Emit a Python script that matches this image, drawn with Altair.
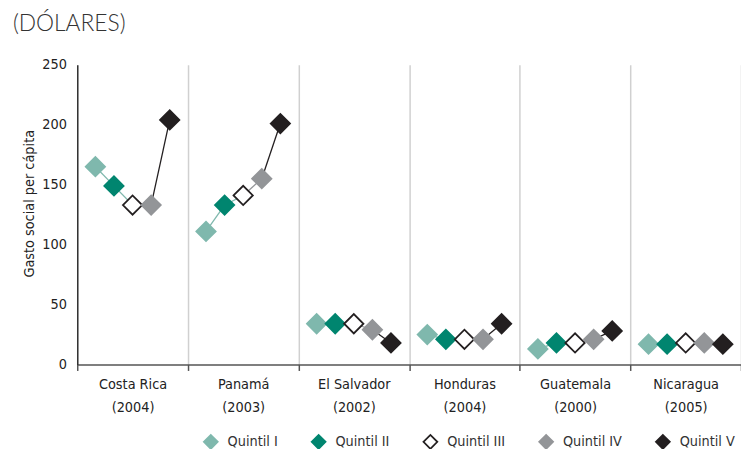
import altair as alt
import pandas as pd

FONT = "DejaVu Sans Condensed, sans-serif"

countries = ["Costa Rica", "Panamá", "El Salvador", "Honduras", "Guatemala", "Nicaragua"]
years = ["2004", "2003", "2002", "2004", "2000", "2005"]
quintiles = ["Quintil I", "Quintil II", "Quintil III", "Quintil IV", "Quintil V"]

q1 = [165, 111, 34, 25, 13, 17]
q2 = [149, 133, 34, 21, 18, 17]
q3 = [133, 141, 34, 21, 18, 18]
q4 = [133, 155, 29, 21, 21, 18]
q5 = [204, 201, 18, 34, 28, 17]
values = [q1, q2, q3, q4, q5]

fills = ["#7fb8ad", "#00856f", "#ffffff", "#939598", "#231f20"]
strokes = ["#7fb8ad", "#00856f", "#231f20", "#939598", "#231f20"]
seg_colors = ["#7fb8ad", "#7fb8ad", "#939598", "#231f20"]
offsets = [-0.336, -0.168, 0.0, 0.168, 0.336]

labels = [f"{c}|({y})" for c, y in zip(countries, years)]

pts = []
segs = []
for ci, c in enumerate(countries):
    for qi, q in enumerate(quintiles):
        pts.append(dict(country=c, quintil=q, value=values[qi][ci],
                        pos=ci + 0.5 + offsets[qi]))
    for qi in range(len(quintiles) - 1):
        segs.append(dict(x1=ci + 0.5 + offsets[qi], x2=ci + 0.5 + offsets[qi + 1],
                         y1=values[qi][ci], y2=values[qi + 1][ci], col=seg_colors[qi]))
pts = pd.DataFrame(pts)
segs = pd.DataFrame(segs)

xq = alt.Scale(domain=[0, 6], nice=False, zero=False)
ys = alt.Scale(domain=[0, 250], nice=False)
yaxis = alt.Axis(title="Gasto social per cápita", values=[0, 50, 100, 150, 200, 250],
                 grid=False, ticks=False, tickSize=0, labelPadding=11,
                 labelFont=FONT, labelFontSize=14.5, labelColor="#222",
                 titleFont=FONT, titleFontSize=14.5, titleFontWeight="normal",
                 titleColor="#222", titleAngle=270, titleAlign="center",
                 titleBaseline="bottom", titleX=-41, titleY=140,
                 domainColor="#333", domainWidth=1.5)

axis_layer = alt.Chart(pd.DataFrame({"label": labels})).mark_point(opacity=0).encode(
    x=alt.X("label:N", sort=labels,
            scale=alt.Scale(paddingInner=0, paddingOuter=0),
            axis=alt.Axis(title=None, labelExpr="split(datum.label, '|')",
                          tickBand="extent", grid=True, gridColor="#d0d0d0", gridWidth=1.5,
                          domainColor="#555", domainWidth=1.5,
                          tickColor="#555", tickWidth=1.5, tickSize=6,
                          labelAngle=0, labelFont=FONT, labelFontSize=14.5,
                          labelColor="#222", labelPadding=7, labelLineHeight=23,
                          labelBaseline="top"))
)

seg_layer = alt.Chart(segs).mark_rule(strokeWidth=1.3).encode(
    x=alt.X("x1:Q", scale=xq, axis=None),
    x2="x2:Q",
    y=alt.Y("y1:Q", scale=ys, axis=yaxis),
    y2="y2:Q",
    color=alt.Color("col:N", scale=None),
)

legend = alt.Legend(title=None, orient="none", legendX=127, legendY=373,
                    direction="horizontal", symbolType="diamond", symbolSize=196,
                    symbolStrokeWidth=1.8, labelFont=FONT, labelFontSize=14.5,
                    labelColor="#333", columnPadding=30, labelOffset=9)

pt_layer = alt.Chart(pts).mark_point(shape="diamond", size=380, opacity=1,
                                     strokeWidth=1.8).encode(
    x=alt.X("pos:Q", scale=xq, axis=None),
    y=alt.Y("value:Q", scale=ys, axis=yaxis),
    fill=alt.Fill("quintil:N", scale=alt.Scale(domain=quintiles, range=fills), legend=legend),
    stroke=alt.Stroke("quintil:N", scale=alt.Scale(domain=quintiles, range=strokes), legend=legend),
)

chart = alt.layer(axis_layer, seg_layer, pt_layer).resolve_scale(x="independent").properties(
    width=671, height=303, autosize="none",
    padding={"left": 70, "top": 55, "right": 0, "bottom": 83},
    title=alt.Title("(DÓLARES)", anchor="start", dx=-9, offset=21, fontSize=23,
                    font="Lato", fontWeight=300, color="#333"),
).configure_view(stroke=None)

chart.save("out.html", embed_options={"renderer": "svg", "actions": False})
